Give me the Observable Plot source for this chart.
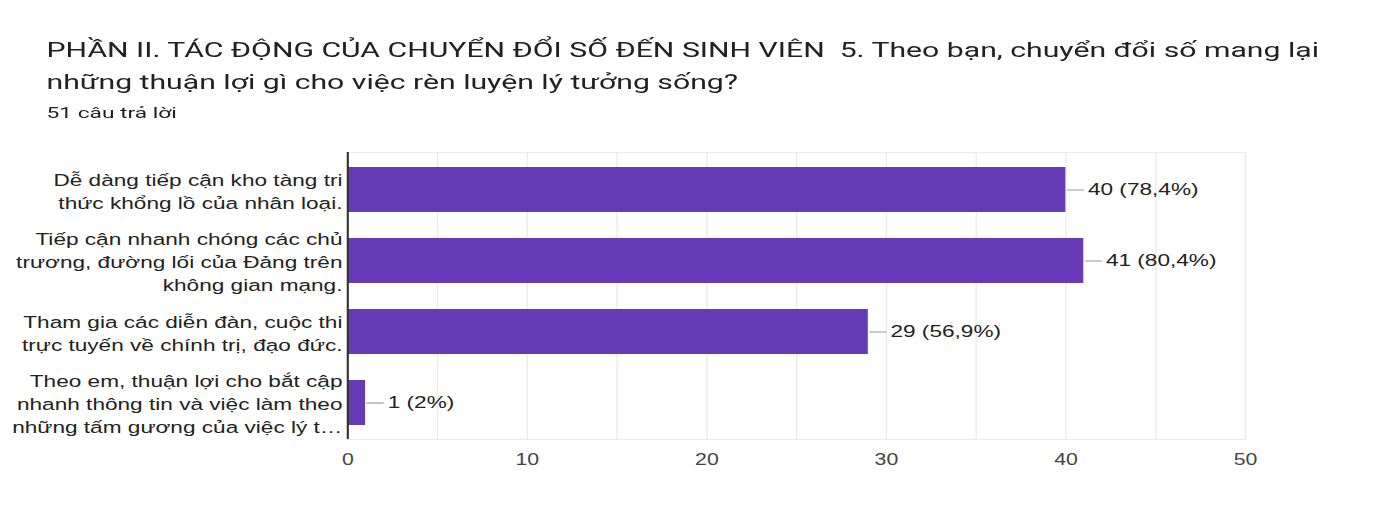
<!DOCTYPE html>
<html><head><meta charset="utf-8">
<script src="https://cdn.jsdelivr.net/npm/d3@7"></script>
<script src="https://cdn.jsdelivr.net/npm/@observablehq/plot@0.6"></script>
<style>
html,body{margin:0;padding:0;background:#fff;overflow:hidden;}
#wrap{width:1042px;transform:scaleX(1.33);transform-origin:0 0;position:relative;}
#head{position:relative;height:130px;font-family:Roboto,sans-serif;color:#202124;}
#head div{position:absolute;left:35px;white-space:pre;transform-origin:0 0;}
.t{font-size:20.5px;line-height:20.5px;transform:scaleX(1.107);}
.s{font-size:14px;line-height:14px;transform:scaleX(1.22);}
#chart svg{display:block;}
</style></head>
<body>
<div id="wrap">
  <div id="head">
    <div class="t" style="top:40px">PHẦN II. TÁC ĐỘNG CỦA CHUYỂN ĐỔI SỐ ĐẾN SINH VIÊN  5. Theo bạn, chuyển đổi số mang lại</div>
    <div class="t" style="top:71.5px">những thuận lợi gì cho việc rèn luyện lý tưởng sống?</div>
    <div class="s" style="top:105.5px">51 câu trả lời</div>
  </div>
  <div id="chart"></div>
</div>
<script>
const categories = [
  "Dễ dàng tiếp cận kho tàng tri\nthức khổng lồ của nhân loại.",
  "Tiếp cận nhanh chóng các chủ\ntrương, đường lối của Đảng trên\nkhông gian mạng.",
  "Tham gia các diễn đàn, cuộc thi\ntrực tuyến về chính trị, đạo đức.",
  "Theo em, thuận lợi cho bắt cập\nnhanh thông tin và việc làm theo\nnhững tấm gương của việc lý t…"
];
const counts = [40, 41, 29, 1];
const percents = ["78,4%", "80,4%", "56,9%", "2%"];
const xTicks = [0, 10, 20, 30, 40, 50];
const gridValues = [0, 5, 10, 15, 20, 25, 30, 35, 40, 45, 50];

const data = categories.map((c, i) => ({cat: c, n: counts[i], label: `${counts[i]} (${percents[i]})`}));

const chart = Plot.plot({
  width: 1042,
  height: 394,
  marginLeft: 261,
  marginRight: 106,
  marginTop: 22,
  marginBottom: 85,
  style: {fontFamily: "'Liberation Sans', Arial, sans-serif", background: "#fff"},
  x: {domain: [0, 50], ticks: xTicks, label: null},
  y: {domain: categories, paddingInner: 0.37, paddingOuter: 0.185, label: null, axis: null},
  marks: [
    Plot.ruleX(gridValues, {stroke: "#ebebeb", strokeWidth: 1}),
    Plot.frame({stroke: "#ebebeb"}),
    Plot.axisX({ticks: xTicks, tickSize: 0, tickPadding: 14, fontSize: 16, fill: "#444", label: null}),
    Plot.barX(data, {x: "n", y: "cat", fill: "#673ab7", insetTop: 0, insetBottom: 0}),
    Plot.ruleX([0], {stroke: "#333", strokeWidth: 1.6}),
    Plot.ruleY(data, {y: "cat", x1: "n", x2: "n", insetLeft: 1, insetRight: -14, stroke: "#999", strokeWidth: 1.2}),
    Plot.text(data, {x: 0, y: "cat", text: "cat", textAnchor: "end", dx: -4, fontSize: 17, lineHeight: 1.353, fill: "#222"}),
    Plot.text(data, {x: "n", y: "cat", text: "label", textAnchor: "start", dx: 16.5, fontSize: 17, fill: "#222"})
  ]
});
document.getElementById("chart").appendChild(chart);
</script>
</body></html>
